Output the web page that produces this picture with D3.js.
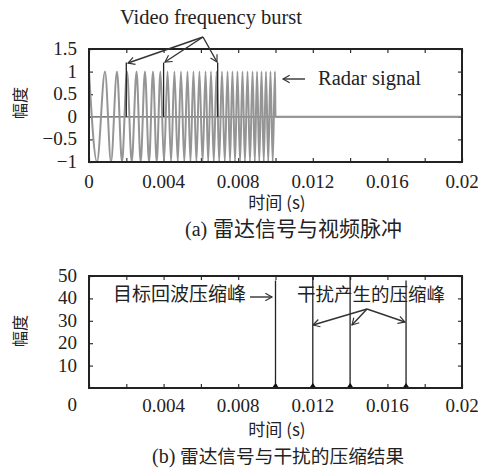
<!DOCTYPE html>
<html>
<head>
<meta charset="utf-8">
<script src="https://cdn.jsdelivr.net/npm/d3@7"></script>
<style>
  body { margin: 0; background: #fff; }
  text { fill: #222; }
</style>
</head>
<body>
<div id="chart"></div>
<script>
// (a) radar signal: extrema (s)
var signalPeaks = [0, 0.000858, 0.00150, 0.00204, 0.00255, 0.00300, 0.00343, 0.00383,
  0.00421, 0.00458, 0.00493, 0.00528, 0.00560, 0.00592, 0.00625, 0.00654, 0.00684,
  0.00713, 0.00743, 0.00769, 0.00796, 0.00823, 0.00850, 0.00877, 0.00901, 0.00925,
  0.00949, 0.00973, 0.00997];
var signalTroughs = [0.000429, 0.00118, 0.00177, 0.00229, 0.00277, 0.00322, 0.00363,
  0.00402, 0.00440, 0.00476, 0.00511, 0.00544, 0.00576, 0.00609, 0.00639, 0.00669,
  0.00698, 0.00728, 0.00756, 0.00783, 0.00810, 0.00836, 0.00863, 0.00889, 0.00913,
  0.00937, 0.00961, 0.00985];
var signalEnd = [[0.01, 0], [0.02, 0]];
var burstTimes = [0.002, 0.004, 0.0069];
var burstHeight = 1.2;

// (b) compression result
var peakTimes = [0.010, 0.012, 0.014, 0.017];
var peakHeights = [48, 50, 50, 48];

// ticks
var xMinor = [0, 0.002, 0.004, 0.006, 0.008, 0.01, 0.012, 0.014, 0.016, 0.018, 0.02];
var xMajor = [0, 0.004, 0.008, 0.012, 0.016, 0.02];
var xLabels = ["0", "0.004", "0.008", "0.012", "0.016", "0.02"];
var y1Ticks = [-1, -0.5, 0, 0.5, 1, 1.5];
var y1Labels = ["\u22121", "\u22120.5", "0", "0.5", "1", "1.5"];
var y2Ticks = [10, 20, 30, 40, 50];
var y2Labels = ["10", "20", "30", "40", "50"];

var SERIF = "'Liberation Serif', 'DejaVu Serif', serif";
var CJK = "'Noto Sans CJK SC', sans-serif";

var w = 478, h = 468;
var svg = d3.select("#chart").append("svg")
    .attr("width", w).attr("height", h);

var defs = svg.append("defs");
defs.append("marker")
    .attr("id", "head")
    .attr("viewBox", "-10 -6 12 12")
    .attr("refX", 0).attr("refY", 0)
    .attr("markerWidth", 10).attr("markerHeight", 10)
    .attr("markerUnits", "userSpaceOnUse")
    .attr("orient", "auto")
    .append("path")
    .attr("d", "M-8,-4.5L0,0L-8,4.5")
    .attr("fill", "none").attr("stroke", "#333").attr("stroke-width", 1.4);

var x = d3.scaleLinear().domain([0, 0.02]).range([89, 462]);
var y1 = d3.scaleLinear().domain([-1, 1.5]).range([162, 49]);
var y2 = d3.scaleLinear().domain([0, 50]).range([388, 276]);

function frame(g, y, yTicks) {
    var r = y.range();
    // inward ticks on all four sides
    g.append("g").attr("transform", "translate(0," + r[0] + ")")
        .call(d3.axisBottom(x).tickValues(xMinor).tickSize(-4).tickFormat(""));
    g.append("g").attr("transform", "translate(0," + r[1] + ")")
        .call(d3.axisTop(x).tickValues(xMinor).tickSize(-4).tickFormat(""));
    g.append("g").attr("transform", "translate(" + x.range()[0] + ",0)")
        .call(d3.axisLeft(y).tickValues(yTicks).tickSize(-4).tickFormat(""));
    g.append("g").attr("transform", "translate(" + x.range()[1] + ",0)")
        .call(d3.axisRight(y).tickValues(yTicks).tickSize(-4).tickFormat(""));
    g.selectAll(".domain").remove();
    g.selectAll(".tick line").attr("stroke", "#333").attr("stroke-width", 1.2);
}

function outline(g, y) {
    var r = y.range();
    g.append("rect")
        .attr("x", x.range()[0]).attr("y", r[1])
        .attr("width", x.range()[1] - x.range()[0]).attr("height", r[0] - r[1])
        .attr("fill", "none").attr("stroke", "#222").attr("stroke-width", 2);
}

function arrow(g, x1, yA, x2, yB) {
    g.append("line")
        .attr("x1", x1).attr("y1", yA).attr("x2", x2).attr("y2", yB)
        .attr("stroke", "#333").attr("stroke-width", 1.4)
        .attr("marker-end", "url(#head)");
}

function label(g, txt, px, py, size, family, anchor) {
    return g.append("text")
        .attr("x", px).attr("y", py)
        .attr("font-family", family).attr("font-size", size)
        .attr("text-anchor", anchor || "start")
        .text(txt);
}

// ---------- (a) ----------
var ga = svg.append("g");
frame(ga, y1, y1Ticks);

// zero axis
ga.append("line")
    .attr("x1", x(0)).attr("x2", x(0.02))
    .attr("y1", y1(0)).attr("y2", y1(0))
    .attr("stroke", "#555").attr("stroke-width", 1.3);

var pts = signalPeaks.map(function (t) { return [t, 1]; })
    .concat(signalTroughs.map(function (t) { return [t, -1]; }))
    .sort(function (a, b) { return a[0] - b[0]; })
    .concat(signalEnd);

var line1 = d3.line()
    .x(function (d) { return x(d[0]); })
    .y(function (d) { return y1(d[1]); })
    .curve(d3.curveMonotoneX);

ga.append("path")
    .datum(pts)
    .attr("d", line1)
    .attr("fill", "none")
    .attr("stroke", "#959595")
    .attr("stroke-width", 2);

ga.selectAll(".burst")
    .data(burstTimes)
    .enter().append("line")
    .attr("class", "burst")
    .attr("x1", function (d) { return x(d); })
    .attr("x2", function (d) { return x(d); })
    .attr("y1", y1(0))
    .attr("y2", y1(burstHeight))
    .attr("stroke", "#222").attr("stroke-width", 1.3);

outline(ga, y1);

ga.selectAll(".xl")
    .data(xMajor)
    .enter().append("text")
    .attr("font-family", SERIF).attr("font-size", 19)
    .attr("x", function (d) { return x(d); })
    .attr("y", 188)
    .attr("text-anchor", "middle")
    .text(function (d, i) { return xLabels[i]; });

ga.selectAll(".yl")
    .data(y1Ticks)
    .enter().append("text")
    .attr("font-family", SERIF).attr("font-size", 19)
    .attr("x", 77)
    .attr("y", function (d) { return y1(d) + 6; })
    .attr("text-anchor", "end")
    .text(function (d, i) { return y1Labels[i]; });

ga.append("text")
    .attr("font-family", CJK).attr("font-size", 16)
    .attr("transform", "translate(26,103) rotate(-90)")
    .attr("text-anchor", "middle")
    .text("幅度");
label(ga, "时间 (s)", 277, 209, 17, CJK, "middle");
label(ga, "(a)", 185, 236, 20, SERIF);
label(ga, "雷达信号与视频脉冲", 213, 236, 21, CJK);

label(ga, "Video frequency burst", 211, 24, 20.5, SERIF, "middle");
arrow(ga, 203, 37, 128, 63);
arrow(ga, 203, 37, 165, 62);
arrow(ga, 203, 37, 217, 62);

arrow(ga, 305, 79, 283, 79);
label(ga, "Radar signal", 318, 85, 20.5, SERIF);

// ---------- (b) ----------
var gb = svg.append("g");
frame(gb, y2, y2Ticks);

gb.selectAll(".peak")
    .data(peakTimes)
    .enter().append("line")
    .attr("class", "peak")
    .attr("x1", function (d) { return x(d); })
    .attr("x2", function (d) { return x(d); })
    .attr("y1", y2(0))
    .attr("y2", function (d, i) { return y2(peakHeights[i]); })
    .attr("stroke", "#222").attr("stroke-width", 1.3);

// sidelobe bumps at the base of each peak
gb.selectAll(".lobe")
    .data(peakTimes)
    .enter().append("path")
    .attr("class", "lobe")
    .attr("d", function (d) {
        var cx = x(d), b = y2(0);
        return "M" + (cx - 3.5) + "," + b + "L" + cx + "," + (b - 5) + "L" + (cx + 3.5) + "," + b + "Z";
    })
    .attr("fill", "#111");

outline(gb, y2);

gb.selectAll(".xl")
    .data(xMajor.slice(1))
    .enter().append("text")
    .attr("font-family", SERIF).attr("font-size", 19)
    .attr("x", function (d) { return x(d); })
    .attr("y", 412)
    .attr("text-anchor", "middle")
    .text(function (d, i) { return xLabels[i + 1]; });

gb.selectAll(".yl")
    .data(y2Ticks)
    .enter().append("text")
    .attr("font-family", SERIF).attr("font-size", 19)
    .attr("x", 77)
    .attr("y", function (d) { return y2(d) + 6; })
    .attr("text-anchor", "end")
    .text(function (d, i) { return y2Labels[i]; });
label(gb, "0", 77, 411, 19, SERIF, "end");

gb.append("text")
    .attr("font-family", CJK).attr("font-size", 16)
    .attr("transform", "translate(26,331) rotate(-90)")
    .attr("text-anchor", "middle")
    .text("幅度");
label(gb, "时间 (s)", 277, 436, 17, CJK, "middle");
label(gb, "(b)", 152, 463, 20, SERIF);
label(gb, "雷达信号与干扰的压缩结果", 180, 463, 18.7, CJK);

label(gb, "目标回波压缩峰", 113, 301, 19, CJK);
arrow(gb, 250, 297, 272, 297);

label(gb, "干扰产生的压缩峰", 297, 301, 18.5, CJK);
arrow(gb, 367, 309, 313, 325);
arrow(gb, 367, 309, 352, 325);
arrow(gb, 367, 309, 405, 322);
</script>
</body>
</html>
